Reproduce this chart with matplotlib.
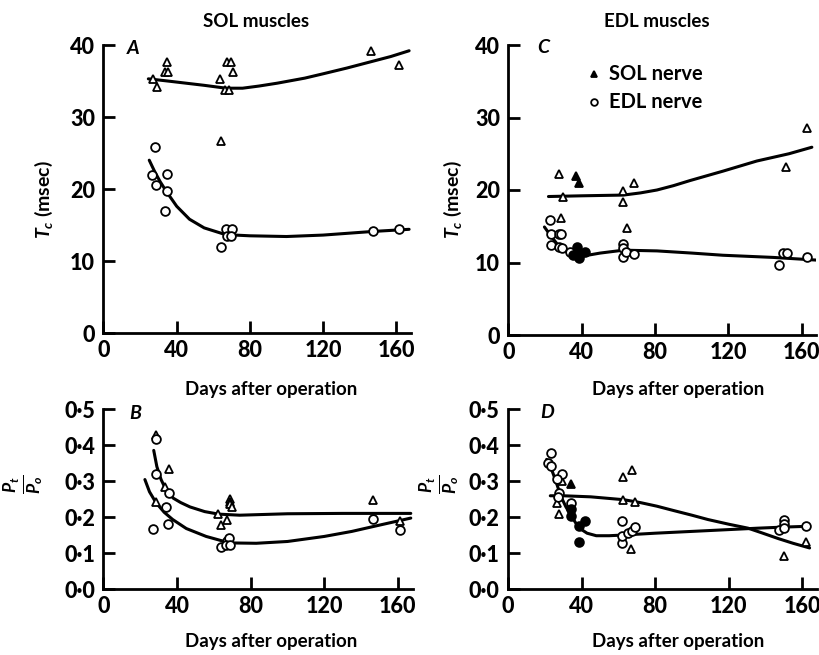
import matplotlib
matplotlib.use('Agg')
import matplotlib.pyplot as plt

plt.rcParams['font.family'] = ['Lato', 'DejaVu Sans']
plt.rcParams['font.weight'] = 'bold'
plt.rcParams['mathtext.fontset'] = 'custom'
plt.rcParams['mathtext.rm'] = 'Lato:bold'
plt.rcParams['mathtext.it'] = 'Lato:bold:italic'
plt.rcParams['mathtext.bf'] = 'Lato:bold'

# ---------------- data ----------------
x_ticks = [0, 40, 80, 120, 160]
tc_ticks = [0, 10, 20, 30, 40]
pr_ticks = [0.0, 0.1, 0.2, 0.3, 0.4, 0.5]
pr_tick_labels = ['0·0', '0·1', '0·2', '0·3', '0·4', '0·5']

# Panel A: SOL muscles, twitch time (msec)
A_sol_x = [26.9, 29, 34.5, 33.6, 35, 63.6, 64, 67.6, 69.5, 71, 66.4, 68.5, 146, 161.5]
A_sol_y = [35.3, 34.2, 37.7, 36.2, 36.2, 35.3, 26.6, 37.7, 37.7, 36.2, 33.8, 33.8, 39.2, 37.2]
A_edl_x = [28.2, 26.4, 28.5, 34.5, 34.5, 33.6, 64.2, 66.7, 70, 67.3, 69.5, 147, 161.5]
A_edl_y = [25.9, 21.9, 20.5, 22.1, 19.7, 17.0, 12.0, 14.4, 14.4, 13.5, 13.5, 14.1, 14.5]
A_sol_curve_x = [24.5, 35, 45, 55, 67, 76, 85, 95, 110, 120, 133, 145, 157, 167]
A_sol_curve_y = [35.3, 35.0, 34.7, 34.4, 34.0, 34.0, 34.3, 34.7, 35.4, 36.0, 36.8, 37.6, 38.4, 39.2]
A_edl_curve_x = [25, 28, 31, 34.5, 40, 47, 55, 65, 72, 80, 100, 120, 147, 167]
A_edl_curve_y = [24.0, 22.4, 21.0, 19.6, 17.6, 15.8, 14.6, 13.8, 13.6, 13.5, 13.4, 13.6, 14.1, 14.4]

# Panel B: SOL muscles, Pt/Po
B_sol_x = [28.8, 35.7, 33.3, 28.8, 62.5, 64, 67, 68.5, 68.5, 68.5, 70, 146.5, 161]
B_sol_y = [0.427, 0.333, 0.283, 0.241, 0.208, 0.179, 0.193, 0.25, 0.243, 0.236, 0.228, 0.246, 0.188]
B_edl_x = [28.8, 28.8, 27, 34.2, 35.5, 35.2, 63.6, 67.3, 68.2, 66.4, 69, 146.5, 161]
B_edl_y = [0.417, 0.32, 0.168, 0.228, 0.268, 0.181, 0.116, 0.132, 0.142, 0.123, 0.121, 0.195, 0.163]
B_sol_curve_x = [27.3, 29, 31.3, 34, 38, 42, 47, 55, 62.5, 74, 100, 130, 167]
B_sol_curve_y = [0.385, 0.34, 0.304, 0.275, 0.252, 0.24, 0.228, 0.215, 0.208, 0.205, 0.209, 0.21, 0.21]
B_edl_curve_x = [22.5, 25, 28.5, 33, 37.6, 45, 55.8, 68.5, 83, 100, 120, 135, 147, 167]
B_edl_curve_y = [0.304, 0.27, 0.24, 0.213, 0.193, 0.168, 0.146, 0.128, 0.127, 0.132, 0.146, 0.16, 0.174, 0.197]

# Panel C: EDL muscles, twitch time (msec)
C_sol_x = [27.6, 29.6, 28.7, 62.4, 62.4, 68.2, 64.5, 151.5, 163]
C_sol_y = [22.2, 19.1, 16.2, 19.9, 18.3, 21.0, 14.7, 23.2, 28.6]
C_solf_x = [36.7, 38.5]
C_solf_y = [22.0, 20.9]
C_edl_x = [22.4, 23.1, 23.1, 27.3, 28.7, 27.3, 29.1, 33.3, 62.4, 62.4, 62.4, 64.2, 68.2, 147.3, 150, 152.2, 162.7]
C_edl_y = [15.8, 13.9, 12.4, 13.9, 13.9, 12.1, 12.0, 11.4, 12.6, 12.0, 10.8, 11.4, 11.2, 9.7, 11.3, 11.3, 10.7]
C_edlf_x = [37.3, 35.1, 38.7, 41.8, 38.2]
C_edlf_y = [12.2, 11.0, 10.6, 11.4, 11.0]
C_sol_curve_x = [21.8, 40, 62.7, 72, 81, 90, 99, 117, 135.5, 153, 165.5]
C_sol_curve_y = [19.1, 19.2, 19.3, 19.6, 20.0, 20.6, 21.3, 22.6, 24.0, 25.0, 25.9]
C_edl_curve_x = [19.6, 23, 26.4, 30, 33.6, 37, 40.9, 50, 62.7, 81, 100, 117, 144.5, 170]
C_edl_curve_y = [14.9, 13.7, 12.6, 11.8, 11.2, 10.9, 10.9, 11.3, 11.7, 11.6, 11.3, 11.0, 10.7, 10.3]

# Panel D: EDL muscles, Pt/Po
D_sol_x = [26.9, 27.7, 29.6, 62.7, 67.5, 62.7, 69, 66.9, 150, 161.8]
D_sol_y = [0.240, 0.209, 0.299, 0.311, 0.331, 0.246, 0.241, 0.112, 0.091, 0.130]
D_solf_x = [34.2]
D_solf_y = [0.292]
D_edl_x = [23.6, 21.8, 23.6, 29.1, 26.9, 27.9, 27.4, 34.2, 62, 62, 62, 65, 67.3, 69, 147.3, 150, 150, 150, 162]
D_edl_y = [0.377, 0.350, 0.342, 0.320, 0.305, 0.268, 0.255, 0.240, 0.188, 0.128, 0.148, 0.156, 0.160, 0.172, 0.163, 0.193, 0.181, 0.169, 0.174]
D_edlf_x = [34.2, 34.2, 38.7, 41.8, 38.7]
D_edlf_y = [0.222, 0.202, 0.174, 0.188, 0.131]
D_sol_curve_x = [23, 30, 45, 63, 72, 81, 90, 100, 108.7, 120, 130.5, 138, 147, 155, 164]
D_sol_curve_y = [0.259, 0.259, 0.256, 0.248, 0.240, 0.230, 0.218, 0.205, 0.193, 0.180, 0.169, 0.156, 0.140, 0.127, 0.114]
D_edl_curve_x = [21, 23.5, 26, 28.7, 31.5, 34.2, 37, 40, 43, 48, 55, 63, 80, 100, 120, 136, 150, 162]
D_edl_curve_y = [0.36, 0.335, 0.30, 0.258, 0.228, 0.205, 0.182, 0.165, 0.155, 0.148, 0.148, 0.150, 0.155, 0.160, 0.165, 0.169, 0.172, 0.174]

# ---------------- layout ----------------
W, H = 820, 655
fig = plt.figure(figsize=(W / 100, H / 100), dpi=100)


def ax_at(x0, y0, x1, y1):
    return fig.add_axes([x0 / W, 1 - y1 / H, (x1 - x0) / W, (y1 - y0) / H])


XMAX = 168
axA = ax_at(103.5, 45, 103.5 + XMAX * 1.83, 333)
axB = ax_at(103.5, 409, 103.5 + XMAX * 1.84, 589)
axC = ax_at(508.5, 45, 508.5 + XMAX * 1.833, 335)
axD = ax_at(508.0, 409, 508.0 + XMAX * 1.839, 589)

LW = 2.2
MS_T = 6.3
MS_C = 6.3
MEW = 1.3


def style(ax, ylim, yticks, ylabels=None):
    ax.set_xlim(0, XMAX)
    ax.set_ylim(*ylim)
    for s in ['top', 'right']:
        ax.spines[s].set_visible(False)
    for s in ['left', 'bottom']:
        ax.spines[s].set_linewidth(2.0)
    ax.set_xticks(x_ticks)
    ax.set_yticks(yticks)
    if ylabels is not None:
        ax.set_yticklabels(ylabels)
    ax.tick_params(direction='in', length=8.5, width=2.0, labelsize=15.5,
                   pad=6)
    ax.tick_params(axis='x', pad=5)
    for lab in ax.get_xticklabels() + ax.get_yticklabels():
        lab.set_fontweight(900)


def tri(ax, x, y, filled=False):
    ax.plot(x, y, linestyle='none', marker='^', ms=MS_T, mew=MEW,
            mec='black', mfc='black' if filled else 'white', zorder=4)


def circ(ax, x, y, filled=False):
    ax.plot(x, y, linestyle='none', marker='o', ms=MS_C, mew=MEW,
            mec='black', mfc='black' if filled else 'white', zorder=4)


def curve(ax, x, y):
    ax.plot(x, y, color='black', lw=LW, solid_capstyle='round',
            solid_joinstyle='round', zorder=3)


# Panel A
curve(axA, A_sol_curve_x, A_sol_curve_y)
curve(axA, A_edl_curve_x, A_edl_curve_y)
tri(axA, A_sol_x, A_sol_y)
circ(axA, A_edl_x, A_edl_y)
style(axA, (0, 40), tc_ticks)

# Panel B
curve(axB, B_sol_curve_x, B_sol_curve_y)
curve(axB, B_edl_curve_x, B_edl_curve_y)
tri(axB, B_sol_x, B_sol_y)
circ(axB, B_edl_x, B_edl_y)
style(axB, (0, 0.5), pr_ticks, pr_tick_labels)

# Panel C
curve(axC, C_sol_curve_x, C_sol_curve_y)
curve(axC, C_edl_curve_x, C_edl_curve_y)
tri(axC, C_sol_x, C_sol_y)
tri(axC, C_solf_x, C_solf_y, filled=True)
circ(axC, C_edl_x, C_edl_y)
circ(axC, C_edlf_x, C_edlf_y, filled=True)
style(axC, (0, 40), tc_ticks)

# Panel D
curve(axD, D_sol_curve_x, D_sol_curve_y)
curve(axD, D_edl_curve_x, D_edl_curve_y)
tri(axD, D_sol_x, D_sol_y)
tri(axD, D_solf_x, D_solf_y, filled=True)
circ(axD, D_edl_x, D_edl_y)
circ(axD, D_edlf_x, D_edlf_y, filled=True)
style(axD, (0, 0.5), pr_ticks, pr_tick_labels)

# ---------------- text ----------------
def ftext(x, y, s, **kw):
    fig.text(x / W, 1 - y / H, s, **kw)


ftext(256, 27, 'SOL muscles', ha='center', va='baseline', fontsize=13.5, fontweight='bold')
ftext(657, 27, 'EDL muscles', ha='center', va='baseline', fontsize=13.5, fontweight='bold')

for (cx, by) in [(271, 395), (678, 395), (271, 647), (678, 647)]:
    ftext(cx, by, 'Days after operation', ha='center', va='baseline',
          fontsize=13.5, fontweight='bold')

for (lx, by, s) in [(127, 54, 'A'), (129, 419, 'B'), (537, 53, 'C'), (540, 418, 'D')]:
    ftext(lx, by, s, ha='left', va='baseline', fontsize=14,
          fontweight='bold', fontstyle='italic')

ftext(44, 200, r'$T_{c}$ (msec)', ha='center', va='center', rotation=90, fontsize=14)
ftext(453, 200, r'$T_{c}$ (msec)', ha='center', va='center', rotation=90, fontsize=14)
ftext(24, 484, r'$\frac{P_{t}}{P_{o}}$', ha='center', va='center', rotation=90, fontsize=18)
ftext(440, 484, r'$\frac{P_{t}}{P_{o}}$', ha='center', va='center', rotation=90, fontsize=18)

# legend in panel C
fig.lines.append(plt.Line2D([594 / W], [1 - 74 / H], transform=fig.transFigure,
                            marker='^', ms=4.8, mew=MEW, mec='black', mfc='black',
                            linestyle='none'))
fig.lines.append(plt.Line2D([594 / W], [1 - 101.5 / H], transform=fig.transFigure,
                            marker='o', ms=4.8, mew=MEW, mec='black', mfc='white',
                            linestyle='none'))
ftext(609, 80, 'SOL nerve', ha='left', va='baseline', fontsize=14.5, fontweight='bold')
ftext(609, 108, 'EDL nerve', ha='left', va='baseline', fontsize=14.5, fontweight='bold')

fig.savefig('out.png', dpi=100)
